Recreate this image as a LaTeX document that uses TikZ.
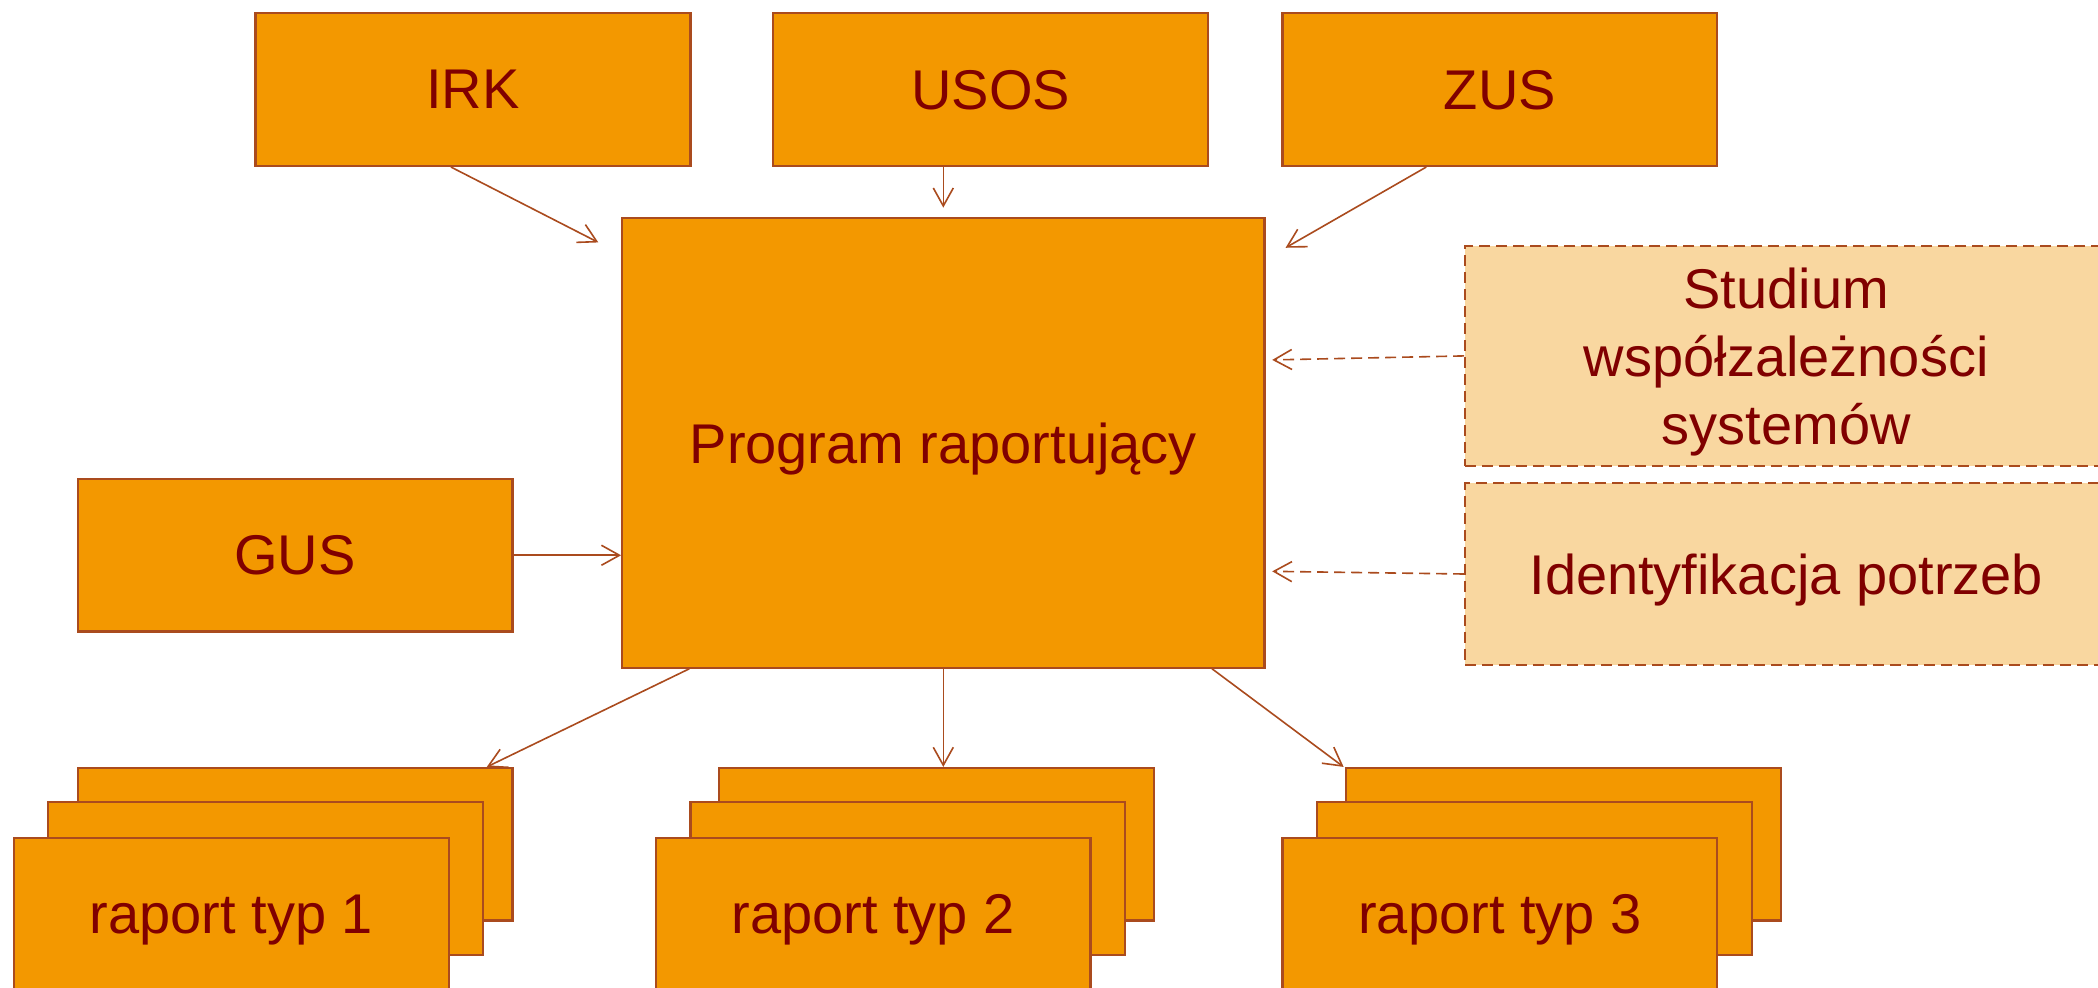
\documentclass[tikz,border=0pt]{standalone}
\usepackage{fontspec}
\setmainfont{Liberation Sans}
\usetikzlibrary{arrows.meta,calc}
\definecolor{org}{RGB}{243,152,0}
\definecolor{brd}{RGB}{170,75,30}
\definecolor{txt}{RGB}{128,0,0}
\definecolor{lt}{RGB}{249,215,160}
\begin{document}
\begin{tikzpicture}[x=0.669pt,y=-0.669pt,
  box/.style={draw=brd, fill=org, line width=1.1pt, inner sep=0pt, text=txt,
    font=\fontsize{28}{34}\selectfont, align=center, text depth=0pt,
    minimum width=325*0.669pt, minimum height=114*0.669pt},
  dbox/.style={box, fill=lt, dash pattern=on 5.5pt off 3pt},
  conn/.style={draw=brd, line width=0.8pt, -{Straight Barb[length=9pt,width=10pt,line width=0.8pt]}},
  dconn/.style={conn, dash pattern=on 5.5pt off 3pt}]
\clip (0,0) rectangle (1568,738);
\fill[white] (0,0) rectangle (1568,738);
% top sources
\node[box] (irk)  at (353.5,67) {IRK};
\node[box] (usos) at (740.5,67) {USOS};
\node[box] (zus)  at (1121,67) {ZUS};
\node[box] (gus)  at (220.5,415) {GUS};
% main
\node[box, minimum width=480*0.669pt, minimum height=336*0.669pt] (prog) at (705,331) {Program raportujący};
% right dashed
\node[dbox, minimum width=480*0.669pt, minimum height=164*0.669pt] (stud) at (1335,266) {Studium\\współzależności\\systemów};
\node[dbox, minimum width=480*0.669pt, minimum height=136*0.669pt] (ident) at (1335,429) {Identyfikacja potrzeb};
% report stacks
\node[box] (r1c) at (220.5,631) {};
\node[box] (r1b) at (198.5,656.5) {};
\node[box] (r1a) at (173,683) {raport typ 1};
\node[box] (r2c) at (700,631) {};
\node[box] (r2b) at (678.5,656.5) {};
\node[box] (r2a) at (652.5,683) {raport typ 2};
\node[box] (r3c) at (1168.5,631) {};
\node[box] (r3b) at (1147,656.5) {};
\node[box] (r3a) at (1121,683) {raport typ 3};
% end points
\coordinate (eirk) at ($(prog.north west)+(-17,19)$);
\coordinate (eusos) at ($(prog.north)+(0,-7)$);
\coordinate (ezus) at ($(prog.north east)+(15,23)$);
\coordinate (estud) at ($(prog.east)+(5,-62)$);
\coordinate (eident) at ($(prog.east)+(5,96)$);
% connectors
\draw[conn] ($(irk.south)+(-16.5,0)$) -- (eirk);
\draw[conn] (prog.north |- usos.south) -- (eusos);
\draw[conn] ($(zus.south)+(-55,0)$) -- (ezus);
\draw[conn] (gus.east) -- (prog.west |- gus.east);
\draw[dconn] (stud.west) -- (estud);
\draw[dconn] (ident.west) -- (eident);
\draw[conn] ($(prog.south west)+(51,0)$) -- ($(r1c.north east)+(-20,0)$);
\draw[conn] (prog.south) -- (prog.south |- r2c.north);
\draw[conn] ($(prog.south east)+(-40,0)$) -- ($(r3c.north west)+(-1,0)$);
\end{tikzpicture}
\end{document}
